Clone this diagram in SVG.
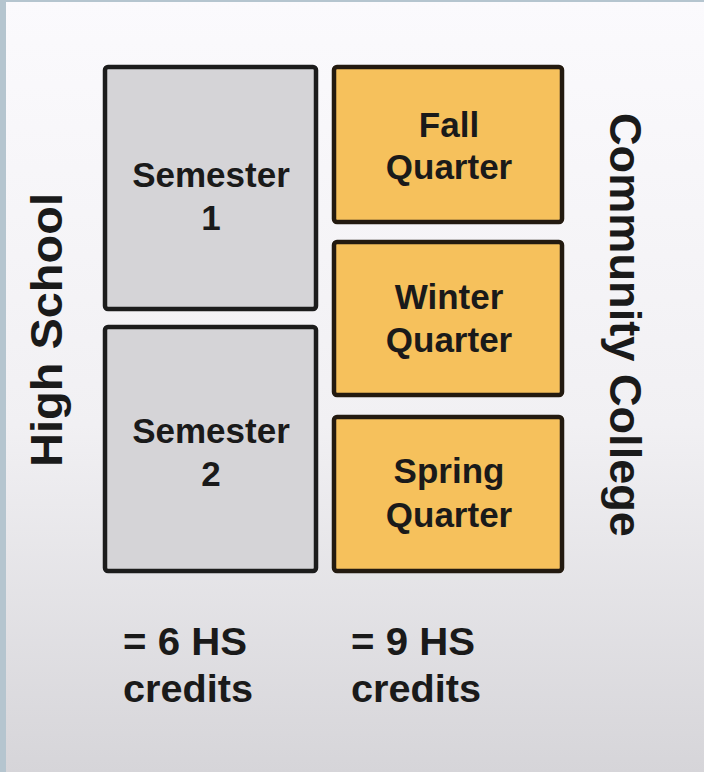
<svg xmlns="http://www.w3.org/2000/svg" width="704" height="772" viewBox="0 0 704 772">
<defs>
<linearGradient id="bg" x1="0" y1="0" x2="0" y2="1">
<stop offset="0" stop-color="#fbfafd"/>
<stop offset="0.55" stop-color="#f1f0f3"/>
<stop offset="1" stop-color="#d6d5d9"/>
</linearGradient>
<style>
.t{font-family:"Liberation Sans",Arial,sans-serif;font-weight:bold;fill:#1a1a1a;text-anchor:middle}
.box{font-size:35px}
.gray{fill:#d5d4d7;stroke:#1c1c1c;stroke-width:4.5}
.orange{fill:#f6c15c;stroke:#231a10;stroke-width:4.5}
.side{font-size:45px}
.cred{font-size:39px;text-anchor:start}
</style>
</defs>
<rect x="0" y="0" width="704" height="772" fill="url(#bg)"/>
<rect x="0" y="0" width="704" height="2" fill="#b5c5cf"/>
<rect x="0" y="0" width="6" height="772" fill="#b5c5cf"/>
<g id="sem1">
<rect class="gray" x="105" y="67" width="211" height="242" rx="3"/>
<text class="t box" x="211" y="187">Semester</text>
<text class="t box" x="211" y="230">1</text>
</g>
<g id="sem2">
<rect class="gray" x="105" y="327" width="211" height="244" rx="3"/>
<text class="t box" x="211" y="443">Semester</text>
<text class="t box" x="211" y="486">2</text>
</g>
<g id="fall">
<rect class="orange" x="334" y="67" width="228" height="155" rx="3"/>
<text class="t box" x="449" y="137">Fall</text>
<text class="t box" x="449" y="179">Quarter</text>
</g>
<g id="winter">
<rect class="orange" x="334" y="242" width="228" height="153" rx="3"/>
<text class="t box" x="449" y="309">Winter</text>
<text class="t box" x="449" y="352">Quarter</text>
</g>
<g id="spring">
<rect class="orange" x="334" y="417" width="228" height="154" rx="3"/>
<text class="t box" x="449" y="483">Spring</text>
<text class="t box" x="449" y="527">Quarter</text>
</g>
<g id="high-school">
<text class="t side" transform="translate(62,330) rotate(-90)" textLength="274" lengthAdjust="spacingAndGlyphs">High School</text>
</g>
<g id="community-college">
<text class="t side" transform="translate(610,325) rotate(90)" textLength="424" lengthAdjust="spacingAndGlyphs">Community College</text>
</g>
<g id="hs-credits">
<text class="t cred" x="123" y="655" textLength="124" lengthAdjust="spacingAndGlyphs">= 6 HS</text>
<text class="t cred" x="123" y="702" textLength="130" lengthAdjust="spacingAndGlyphs">credits</text>
</g>
<g id="cc-credits">
<text class="t cred" x="351" y="655" textLength="124" lengthAdjust="spacingAndGlyphs">= 9 HS</text>
<text class="t cred" x="351" y="702" textLength="130" lengthAdjust="spacingAndGlyphs">credits</text>
</g>
<g id="connectors"/>
</svg>
